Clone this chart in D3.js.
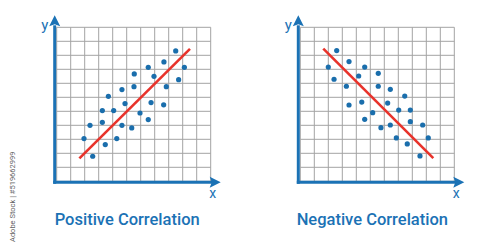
<!DOCTYPE html>
<html>
<head>
<meta charset="utf-8">
<script src="https://cdn.jsdelivr.net/npm/d3@7"></script>
<style>
  html, body { margin: 0; padding: 0; background: #fff; }
  svg { display: block; font-family: Roboto, "Noto Sans", sans-serif; }
</style>
</head>
<body>
<div id="chart"></div>
<script>
// scatter points, in grid units (11 x 11 cells)
const positiveX = [8.5, 7.66, 9.12, 6.54, 5.54, 6.95, 8.71, 5.52, 7.83, 4.66, 3.69, 4.88, 6.74,
  7.64, 3.26, 4.07, 5.95, 3.26, 6.54, 2.38, 4.66, 5.36, 1.95, 4.29, 3.47, 2.57];
const positiveY = [9.31, 8.53, 8.14, 8.14, 7.67, 7.5, 7.26, 6.76, 6.76, 6.55, 6.07, 5.55, 5.62,
  5.46, 5.05, 5.05, 4.88, 4.21, 4.41, 4.0, 4.0, 3.81, 3.05, 3.05, 2.62, 1.79];
const negativeX = [2.6, 2.0, 3.48, 4.6, 2.41, 4.17, 5.57, 3.29, 5.57, 6.43, 7.46, 3.48, 4.39,
  6.24, 7.03, 7.86, 5.17, 4.6, 7.86, 5.76, 6.43, 8.74, 6.86, 9.14, 7.64, 8.55];
const negativeY = [9.34, 8.16, 8.55, 8.16, 7.29, 7.52, 7.71, 6.79, 6.79, 6.57, 6.09, 5.45, 5.66,
  5.59, 5.09, 5.09, 4.9, 4.43, 4.26, 3.83, 4.02, 4.02, 3.1, 3.1, 2.67, 1.81];

// trend line end points
const positiveTrend = [[1.62, 1.64], [9.52, 9.46]];
const negativeTrend = [[1.64, 9.48], [9.5, 1.66]];

const titles = ["Positive Correlation", "Negative Correlation"];
const gridCells = 11;

const blue = "#1b72b5";
const dotColor = "#1a6eac";
const red = "#e8332b";

const svg = d3.select("#chart")
  .append("svg")
  .attr("width", 500)
  .attr("height", 250);

function drawPanel(left, xs, ys, trend, title, titleX) {
  const size = 154;
  const top = 27.3;
  const g = svg.append("g")
    .attr("transform", "translate(" + left + "," + top + ")");

  const x = d3.scaleLinear().domain([0, gridCells]).range([0, size]);
  const y = d3.scaleLinear().domain([0, gridCells]).range([size, 0]);

  // grid
  g.append("g")
    .selectAll("line")
    .data(d3.range(0, gridCells + 1))
    .enter()
    .append("line")
    .attr("x1", (d) => x(d))
    .attr("x2", (d) => x(d))
    .attr("y1", 0)
    .attr("y2", size)
    .attr("stroke", "#a3a3a3")
    .attr("stroke-width", 1);
  g.append("g")
    .selectAll("line")
    .data(d3.range(0, gridCells + 1))
    .enter()
    .append("line")
    .attr("x1", 0)
    .attr("x2", size)
    .attr("y1", (d) => y(d))
    .attr("y2", (d) => y(d))
    .attr("stroke", "#a3a3a3")
    .attr("stroke-width", 1);

  // axes with arrows
  const ax = -2;
  const ay = size + 1;
  g.append("line")
    .attr("x1", ax).attr("y1", ay + 1.5)
    .attr("x2", ax).attr("y2", -2)
    .attr("stroke", blue).attr("stroke-width", 3);
  g.append("line")
    .attr("x1", ax - 1.5).attr("y1", ay)
    .attr("x2", size + 2).attr("y2", ay)
    .attr("stroke", blue).attr("stroke-width", 3);
  g.append("path")
    .attr("d", `M${ax},${-12} L${ax + 5.5},${-1} L${ax},${-3} L${ax - 5.5},${-1} Z`)
    .attr("fill", blue);
  g.append("path")
    .attr("d", `M${size + 10},${ay} L${size - 1},${ay + 5.5} L${size + 1},${ay} L${size - 1},${ay - 5.5} Z`)
    .attr("fill", blue);

  g.append("text")
    .attr("x", ax - 10)
    .attr("y", 3)
    .attr("text-anchor", "middle")
    .attr("fill", blue)
    .attr("font-size", 15)
    .text("y");
  g.append("text")
    .attr("x", size + 2)
    .attr("y", ay + 16)
    .attr("text-anchor", "middle")
    .attr("fill", blue)
    .attr("font-size", 14)
    .text("x");

  // trend line
  g.append("line")
    .attr("x1", x(trend[0][0])).attr("y1", y(trend[0][1]))
    .attr("x2", x(trend[1][0])).attr("y2", y(trend[1][1]))
    .attr("stroke", red)
    .attr("stroke-width", 2.6);

  // dots
  g.append("g")
    .selectAll("circle")
    .data(xs.map((d, i) => [d, ys[i]]))
    .enter()
    .append("circle")
    .attr("cx", (d) => x(d[0]))
    .attr("cy", (d) => y(d[1]))
    .attr("r", 2.6)
    .attr("fill", dotColor);

  g.append("text")
    .attr("x", titleX)
    .attr("y", 197.5)
    .attr("text-anchor", "middle")
    .attr("fill", blue)
    .attr("font-size", 16.5)
    .attr("font-weight", 500)
    .text(title);
}

drawPanel(56.7, positiveX, positiveY, positiveTrend, titles[0], 70.5);
drawPanel(300.3, negativeX, negativeY, negativeTrend, titles[1], 72);

// stock id along the left edge
svg.append("text")
  .attr("transform", "translate(15,242) rotate(-90)")
  .attr("fill", "#666")
  .attr("font-size", 7.5)
  .text("Adobe Stock | #519662999");
</script>
</body>
</html>
